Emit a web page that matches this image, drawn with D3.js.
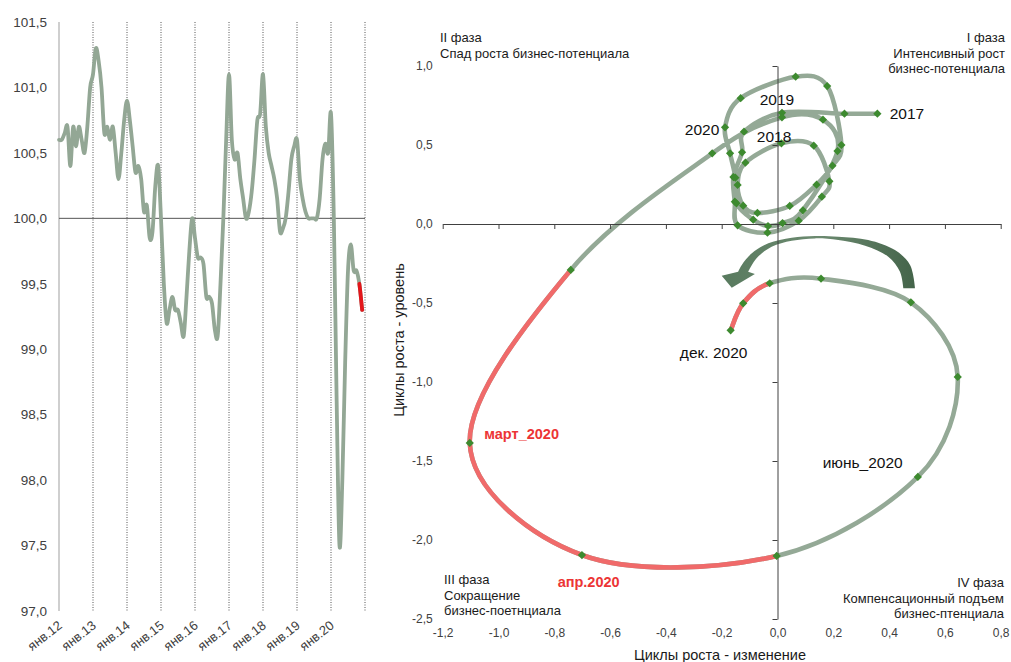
<!DOCTYPE html>
<html><head><meta charset="utf-8">
<script src="https://cdn.jsdelivr.net/npm/d3@7"></script>
<style>
body{margin:0;background:#fff;}
svg{display:block;font-family:"Liberation Sans",Arial,sans-serif;}
</style>
</head><body>
<svg id="c" width="1011" height="662"></svg>
<script>
// ---------- LEFT CHART DATA (monthly index, Jan 2012 .. Dec 2020) ----------
const yearLabels = ["янв.12","янв.13","янв.14","янв.15","янв.16","янв.17","янв.18","янв.19","янв.20"];
const leftTicks = [97.0,97.5,98.0,98.5,99.0,99.5,100.0,100.5,101.0,101.5];
const indexValues = [
  100.6,100.6,100.65,100.7,100.4,100.7,100.55,100.7,100.6,100.5,100.7,101.0,
  101.1,101.3,101.2,101.0,100.65,100.7,100.6,100.7,100.5,100.3,100.5,100.75,
  100.9,100.75,100.55,100.35,100.4,100.3,100.05,100.1,99.85,99.9,100.25,100.4,
  100.0,99.5,99.2,99.3,99.4,99.3,99.3,99.2,99.1,99.4,99.75,100.0,
  99.85,99.7,99.7,99.65,99.4,99.4,99.35,99.15,99.1,99.5,100.0,100.6,
  101.1,100.6,100.45,100.5,100.3,100.15,100.0,100.05,100.2,100.45,100.75,100.8,
  101.1,100.7,100.5,100.4,100.3,100.15,99.9,99.92,100.0,100.2,100.45,100.55,
  100.6,100.3,100.15,100.05,100.0,100.0,100.0,100.0,100.15,100.45,100.57,100.5,
  100.8,100.0,98.6,97.5,98.0,98.9,99.6,99.8,99.6,99.6,99.5,99.3
];
const leftRedFrom = 106;

// ---------- RIGHT CHART DATA (growth cycles: change vs level) ----------
const cycleChange = [
  0.358,0.240,0.016,-0.120,-0.127,-0.158,-0.153,-0.143,-0.036,0.076,0.159,0.186,0.130,
  0.014,-0.115,-0.143,-0.123,-0.072,0.044,0.140,0.197,0.229,0.178,0.065,-0.132,
  -0.188,-0.170,-0.151,-0.147,-0.087,-0.034,0.018,0.091,0.215,0.163,0.016,-0.234,
  -0.741,-1.103,-0.701,-0.003,0.503,0.646,0.478,0.156,-0.028,-0.123,-0.168
];
const cycleLevel = [
  0.698,0.698,0.704,0.584,0.454,0.297,0.141,-0.008,-0.055,0.021,0.173,0.270,0.496,
  0.511,0.388,0.247,0.116,0.070,0.114,0.249,0.369,0.500,0.873,0.932,0.796,
  0.612,0.447,0.293,0.131,0.027,-0.013,0.006,0.087,0.462,0.660,0.675,0.447,
  -0.291,-1.386,-2.095,-2.101,-1.601,-0.968,-0.496,-0.346,-0.375,-0.502,-0.673
];
const redRanges = [[37,40],[45,47]];
const xTicksR = [-1.2,-1.0,-0.8,-0.6,-0.4,-0.2,0.0,0.2,0.4,0.6,0.8];
const yTicksR = [1.0,0.5,0.0,-0.5,-1.0,-1.5,-2.0,-2.5];

const pointLabels = ["2017","2019","2020","2018","дек. 2020","март_2020","апр.2020","июнь_2020"];
const pointLabelX = [0.402,-0.064,-0.332,-0.074,-0.350,-1.051,-0.788,0.162];
const pointLabelY = [0.665,0.753,0.563,0.519,-0.848,-1.362,-2.297,-1.544];
const pointLabelRed = [false,false,false,false,false,true,true,false];

// curved arrow annotation (data coordinates)
const arrowOuter = [[0.493,-0.407],[0.475,-0.259],[0.421,-0.165],[0.325,-0.101],[0.218,-0.080],[0.134,-0.076],
  [0.051,-0.087],[-0.033,-0.122],[-0.092,-0.185],[-0.128,-0.259],[-0.141,-0.302]];
const arrowHead  = [[-0.200,-0.327],[-0.164,-0.403],[-0.081,-0.316]];
const arrowInner = [[-0.105,-0.302],[-0.075,-0.217],[-0.021,-0.144],[0.051,-0.106],[0.134,-0.091],[0.218,-0.101],
  [0.314,-0.137],[0.397,-0.207],[0.439,-0.302],[0.451,-0.407]];

const fmt = d => d3.format(".1f")(d).replace(".", ",").replace("−", "-");

const svg = d3.select("#c");

// Catmull-Rom (Excel-like smoothing) between indices i0..i1
function crPath(pts, i0, i1) {
  const p = d3.path();
  p.moveTo(pts[i0][0], pts[i0][1]);
  for (let k = i0; k < i1; k++) {
    const p0 = pts[Math.max(k - 1, 0)], p1 = pts[k], p2 = pts[k + 1], p3 = pts[Math.min(k + 2, pts.length - 1)];
    p.bezierCurveTo(p1[0] + (p2[0] - p0[0]) / 6, p1[1] + (p2[1] - p0[1]) / 6,
                    p2[0] - (p3[0] - p1[0]) / 6, p2[1] - (p3[1] - p1[1]) / 6, p2[0], p2[1]);
  }
  return p.toString();
}

// ================= LEFT CHART =================
const xL = d3.scaleLinear().domain([0, 108]).range([59, 365]);
const yL = d3.scaleLinear().domain([97, 101.5]).range([611, 22]);
const gL = svg.append("g");

gL.selectAll("line.yr").data(d3.range(1, 10)).join("line")
  .attr("x1", k => xL(12 * k)).attr("x2", k => xL(12 * k))
  .attr("y1", yL(101.5)).attr("y2", yL(97))
  .attr("stroke", "#555").attr("stroke-width", 1).attr("stroke-dasharray", "1,1.5");
gL.append("line").attr("x1", xL(0)).attr("x2", xL(0)).attr("y1", yL(101.5)).attr("y2", yL(97))
  .attr("stroke", "#bfbfbf").attr("stroke-width", 1.5);
gL.append("line").attr("x1", xL(0)).attr("x2", xL(108)).attr("y1", yL(100)).attr("y2", yL(100))
  .attr("stroke", "#555").attr("stroke-width", 1);

const axL = gL.append("g").attr("transform", `translate(${xL(0)},0)`)
  .call(d3.axisLeft(yL).tickValues(leftTicks).tickFormat(fmt).tickSize(0).tickPadding(12));
axL.select(".domain").remove();
axL.selectAll("text").attr("font-size", 13.5).attr("fill", "#404040")
  .attr("font-family", '"Liberation Sans",Arial,sans-serif');

gL.selectAll("text.xl").data(yearLabels).join("text")
  .attr("transform", (d, k) => `translate(${xL(12 * k) + 4},627) rotate(-38)`)
  .attr("text-anchor", "end").attr("font-size", 13).attr("fill", "#404040").text(d => d);

const ptsL = indexValues.map((v, i) => [xL(i), yL(v)]);
gL.append("path").attr("d", crPath(ptsL, 0, ptsL.length - 1))
  .attr("fill", "none").attr("stroke", "#93a795").attr("stroke-width", 3.8)
  .attr("stroke-linejoin", "round").attr("stroke-linecap", "round");
gL.append("path").attr("d", crPath(ptsL, leftRedFrom, ptsL.length - 1))
  .attr("fill", "none").attr("stroke", "#e3161b").attr("stroke-width", 3.8).attr("stroke-linecap", "round");

// ================= RIGHT CHART =================
const xR = d3.scaleLinear().domain([-1.2, 0.8]).range([442.7, 1000.7]);
const yR = d3.scaleLinear().domain([-2.5, 1.0]).range([619, 66]);
const gR = svg.append("g");

const defs = svg.append("defs");
const grad = defs.append("linearGradient").attr("id", "ag").attr("x1", "0").attr("x2", "1").attr("y1", "0").attr("y2", "0");
grad.append("stop").attr("offset", "0").attr("stop-color", "#587a5e");
grad.append("stop").attr("offset", "0.5").attr("stop-color", "#6c8a70");
grad.append("stop").attr("offset", "1").attr("stop-color", "#44644a");
const aLine = d3.line().x(d => xR(d[0])).y(d => yR(d[1])).curve(d3.curveCatmullRom);
const headStr = arrowHead.map(d => `L${xR(d[0])},${yR(d[1])}`).join("");
const arrowD = aLine(arrowOuter) + headStr + aLine(arrowInner).replace(/^M/, "L") + "Z";
gR.append("path").attr("d", arrowD).attr("fill", "url(#ag)");

const ptsR = cycleChange.map((v, i) => [xR(v), yR(cycleLevel[i])]);
gR.append("path").attr("d", crPath(ptsR, 0, ptsR.length - 1))
  .attr("fill", "none").attr("stroke", "#94a996").attr("stroke-width", 4.6)
  .attr("stroke-linejoin", "round").attr("stroke-linecap", "round");
redRanges.forEach(r => {
  gR.append("path").attr("d", crPath(ptsR, r[0], r[1]))
    .attr("fill", "none").attr("stroke", "#f06a6a").attr("stroke-width", 4.6).attr("stroke-linecap", "butt");
});

const axX = gR.append("g").attr("transform", `translate(0,${yR(0)})`)
  .call(d3.axisBottom(xR).tickValues(xTicksR).tickFormat("").tickSize(5).tickSizeOuter(0));
axX.select(".domain").attr("stroke", "#404040");
axX.selectAll(".tick line").attr("stroke", "#404040");
const axY = gR.append("g").attr("transform", `translate(${xR(0)},0)`)
  .call(d3.axisLeft(yR).tickValues(yTicksR).tickFormat("").tickSize(5).tickSizeOuter(0));
axY.select(".domain").attr("stroke", "#404040");
axY.selectAll(".tick line").attr("stroke", "#404040");

const lx = gR.append("g").attr("transform", `translate(0,${yR(-2.5)})`)
  .call(d3.axisBottom(xR).tickValues(xTicksR).tickFormat(fmt).tickSize(0).tickPadding(9));
lx.select(".domain").remove();
lx.selectAll("text").attr("font-size", 12).attr("fill", "#404040").attr("font-family", '"Liberation Sans",Arial,sans-serif');
const ly = gR.append("g").attr("transform", `translate(${xR(-1.2)},0)`)
  .call(d3.axisLeft(yR).tickValues(yTicksR).tickFormat(fmt).tickSize(0).tickPadding(10));
ly.select(".domain").remove();
ly.selectAll("text").attr("font-size", 12).attr("fill", "#404040").attr("font-family", '"Liberation Sans",Arial,sans-serif');

gR.selectAll("path.mk").data(ptsR).join("path")
  .attr("transform", d => `translate(${d[0]},${d[1]}) rotate(45)`)
  .attr("d", d3.symbol().type(d3.symbolSquare).size(34)())
  .attr("fill", "#3d8a2f");

gR.selectAll("text.pl").data(pointLabels).join("text")
  .attr("x", (d, i) => xR(pointLabelX[i])).attr("y", (d, i) => yR(pointLabelY[i]))
  .attr("font-size", (d, i) => pointLabelRed[i] ? 14.5 : 15.5)
  .attr("font-weight", (d, i) => pointLabelRed[i] ? "bold" : "normal")
  .attr("fill", (d, i) => pointLabelRed[i] ? "#ec3535" : "#111").text(d => d);

const quad = [
  {x: 440, y: 42, a: "start", lines: ["II  фаза", "Спад роста бизнес-потенциала"]},
  {x: 1005, y: 42, a: "end", lines: ["I фаза", "Интенсивный рост", "бизнес-потенциала"]},
  {x: 444, y: 584, a: "start", lines: ["III фаза", "Сокращение", "бизнес-поетнциала"]},
  {x: 1004, y: 587, a: "end", lines: ["IV фаза", "Компенсационный подъем", "бизнес-птенциала"]}
];
quad.forEach(q => {
  const t = gR.append("text").attr("font-size", 13).attr("fill", "#1a1a1a").attr("text-anchor", q.a);
  q.lines.forEach((l, i) => t.append("tspan").attr("x", q.x).attr("y", q.y + i * 15.5).text(l));
});

gR.append("text").attr("x", 720).attr("y", 660).attr("text-anchor", "middle")
  .attr("font-size", 14.5).attr("fill", "#1a1a1a").text("Циклы роста - изменение");
gR.append("text").attr("transform", "translate(404,340) rotate(-90)").attr("text-anchor", "middle")
  .attr("font-size", 14.5).attr("fill", "#1a1a1a").text("Циклы роста - уровень");
</script>
</body></html>
